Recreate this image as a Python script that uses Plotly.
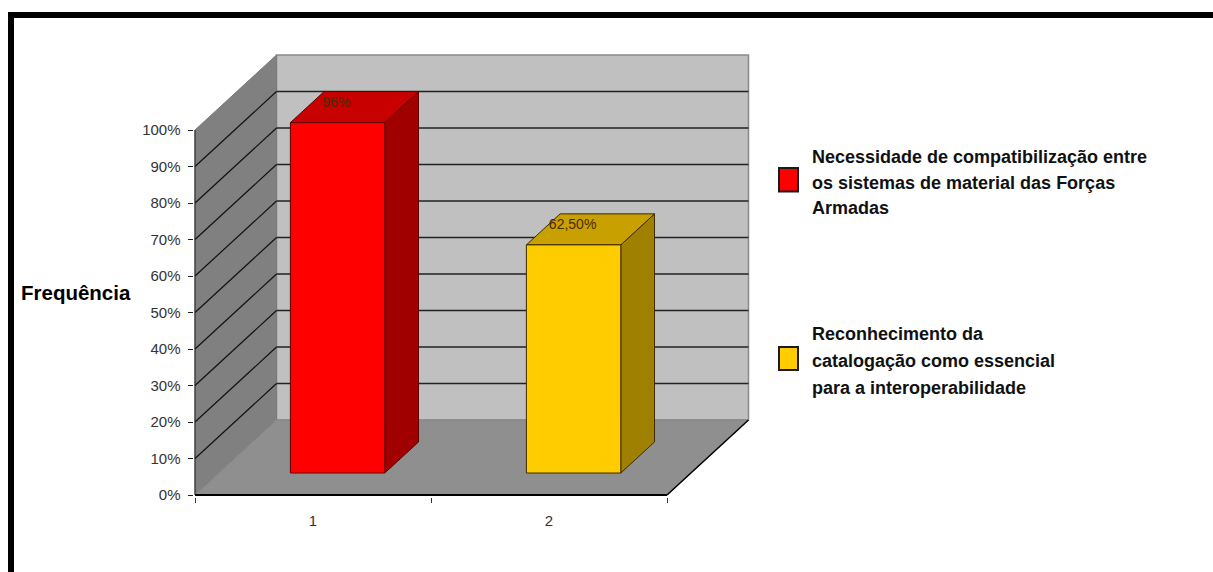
import plotly.graph_objects as go

# Chart data
categories = ["1", "2"]
values = [96, 62.5]
value_labels = ["96%", "62,50%"]
series_names = [
    ["Necessidade de compatibilização entre", "os sistemas de material das Forças", "Armadas"],
    ["Reconhecimento da", "catalogação como essencial", "para a interoperabilidade"],
]
percent_ticks = [0, 10, 20, 30, 40, 50, 60, 70, 80, 90, 100]

W, H = 1213, 572

# Front plane of the plot box, in pixels
LEFT, RIGHT, TOP, BOTTOM = 195, 667, 130, 495
UNIT_X = (RIGHT - LEFT) / 2
UNIT_Y = (BOTTOM - TOP) / 100

# Oblique projection: full depth shifts a point right and up by these pixels
DEPTH_DX, DEPTH_DY = 81.5, 75

# Spare pixels round the box so edge lines are not cut in half by the plot area
PAD = 1.5


def project(x, y, depth=0.0):
    """Map category position, percent and depth (0..1) onto the flat axes."""
    return x + depth * DEPTH_DX / UNIT_X, y + depth * DEPTH_DY / UNIT_Y


fig = go.Figure()


def polygon(points, fill, line_color=None, line_width=1):
    xs, ys = zip(*[project(*p) for p in points + points[:1]])
    fig.add_trace(go.Scatter(
        x=xs, y=ys, mode="lines", fill="toself", fillcolor=fill,
        line=dict(color=line_color or fill, width=line_width),
        hoverinfo="skip", showlegend=False, cliponaxis=False,
    ))


def segment(a, b, color, width):
    xs, ys = zip(project(*a), project(*b))
    fig.add_trace(go.Scatter(
        x=xs, y=ys, mode="lines", line=dict(color=color, width=width),
        hoverinfo="skip", showlegend=False, cliponaxis=False,
    ))


# Walls and floor
polygon([(0, 0, 1), (2, 0, 1), (2, 100, 1), (0, 100, 1)], "#C0C0C0", "#8A8A8A", 1.5)
polygon([(0, 0, 0), (0, 0, 1), (0, 100, 1), (0, 100, 0)], "#808080", "#7A7A7A", 1)
polygon([(0, 0, 0), (2, 0, 0), (2, 0, 1), (0, 0, 1)], "#8F8F8F", "#858585", 1)
segment((2, 0, 0), (2, 0, 1), "#000000", 1.5)

# Gridlines on both walls
for tick in percent_ticks[1:-1]:
    segment((0, tick, 0), (0, tick, 1), "#111111", 1.2)
    segment((0, tick, 1), (2, tick, 1), "#222222", 1.5)

# Bars
BAR_OFFSET, BAR_WIDTH = 0.303, 0.4
BAR_D0, BAR_D1 = 0.293, 0.707
bar_styles = [
    dict(front="#FF0000", top="#C80000", side="#A00000", edge="#5E0000"),
    dict(front="#FFCC00", top="#C8A000", side="#A08000", edge="#3F2A00"),
]
for i, (value, style) in enumerate(zip(values, bar_styles)):
    x0, x1 = i + BAR_OFFSET, i + BAR_OFFSET + BAR_WIDTH
    polygon([(x1, 0, BAR_D0), (x1, 0, BAR_D1), (x1, value, BAR_D1), (x1, value, BAR_D0)],
            style["side"], style["edge"])
    polygon([(x0, value, BAR_D0), (x1, value, BAR_D0), (x1, value, BAR_D1), (x0, value, BAR_D1)],
            style["top"], style["edge"])
    polygon([(x0, 0, BAR_D0), (x1, 0, BAR_D0), (x1, value, BAR_D0), (x0, value, BAR_D0)],
            style["front"], style["edge"])

# Axis lines stop at the front plane, so they are drawn over the floor and side wall
segment((0, 0, 0), (0, 100, 0), "#222222", 1)
segment((0, 0, 0), (2, 0, 0), "#000000", 2)

# Value labels sit just above the front edge of each bar
label_xs = [project(i + BAR_OFFSET + BAR_WIDTH / 2, 0, BAR_D0)[0] - 1 / UNIT_X for i in range(len(values))]
label_ys = [v + 19.5 / UNIT_Y + BAR_D0 * DEPTH_DY / UNIT_Y for v in values]
fig.add_trace(go.Scatter(
    x=label_xs, y=label_ys, mode="text", text=value_labels,
    textposition="middle center",
    textfont=dict(family="Liberation Sans", size=14, color="#4A2A00"),
    hoverinfo="skip", showlegend=False, cliponaxis=False,
))


def px_x(x):
    return x / W


def px_y(y):
    return 1 - y / H


shapes = [
    # Black frame along the top and left edges
    dict(type="rect", xref="paper", yref="paper", x0=px_x(8), x1=1, y0=px_y(18), y1=px_y(12),
         fillcolor="#000000", line_width=0),
    dict(type="rect", xref="paper", yref="paper", x0=px_x(8), x1=px_x(14), y0=0, y1=px_y(12),
         fillcolor="#000000", line_width=0),
]

annotations = [dict(
    text="Frequência", xref="paper", yref="paper", x=px_x(76), y=px_y(292),
    xanchor="center", yanchor="middle", showarrow=False,
    font=dict(family="Liberation Sans", size=20.5, color="#000000", weight="bold"),
)]

# Legend entries: swatch plus one text row per line
legend_rows = [(157, 25.5), (334, 27)]
swatches = [(168, 191.5), (347, 370)]
for lines, (first_y, step), (sy0, sy1), style in zip(series_names, legend_rows, swatches, bar_styles):
    shapes.append(dict(type="rect", xref="paper", yref="paper",
                       x0=px_x(779), x1=px_x(798), y0=px_y(sy1), y1=px_y(sy0),
                       fillcolor=style["front"], line=dict(color="#1A1A1A", width=2)))
    for n, line in enumerate(lines):
        annotations.append(dict(
            text=line, xref="paper", yref="paper", x=px_x(810), y=px_y(first_y + n * step),
            xanchor="left", yanchor="middle", showarrow=False,
            font=dict(family="Liberation Sans", size=18, color="#111111", weight="bold"),
        ))

tick_font = dict(family="Liberation Sans", size=15, color="#333333")

fig.update_layout(
    width=W, height=H, margin=dict(l=0, r=0, t=0, b=0, autoexpand=False),
    paper_bgcolor="#FFFFFF", plot_bgcolor="rgba(0,0,0,0)",
    showlegend=False, shapes=shapes, annotations=annotations,
    xaxis=dict(
        domain=[(LEFT - PAD) / W, (RIGHT + DEPTH_DX + PAD) / W],
        range=[-PAD / UNIT_X, 2 + (DEPTH_DX + PAD) / UNIT_X],
        showgrid=False, zeroline=False, showline=False,
        tickmode="array", tickvals=[0.5, 1.5], ticktext=categories, ticks="",
        tickfont=tick_font, ticklabelstandoff=13,
        minor=dict(tickmode="array", tickvals=[0, 1, 2], ticks="outside", ticklen=5,
                   tickcolor="#333333", tickwidth=1, showgrid=False),
    ),
    yaxis=dict(
        domain=[1 - (BOTTOM + PAD) / H, 1 - (TOP - DEPTH_DY - PAD) / H],
        range=[-PAD / UNIT_Y, 100 + (DEPTH_DY + PAD) / UNIT_Y],
        showgrid=False, zeroline=False, showline=False,
        tickmode="array", tickvals=percent_ticks, ticktext=[f"{t}%" for t in percent_ticks],
        ticks="outside", ticklen=5, tickcolor="#222222", tickwidth=1,
        tickfont=tick_font, ticklabelstandoff=4,
    ),
)

fig.write_html("out.html")
